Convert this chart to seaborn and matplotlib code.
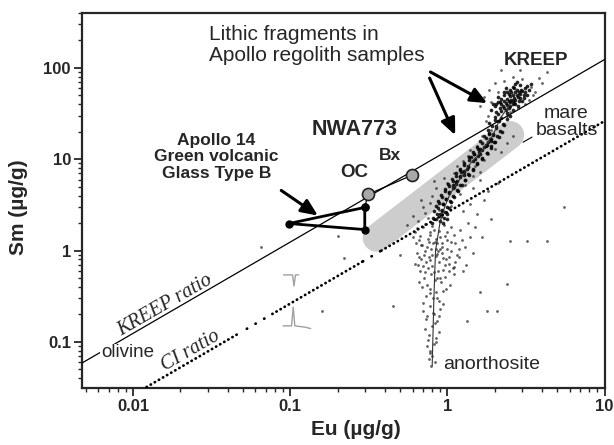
import pandas as pd
import matplotlib
matplotlib.use('Agg')
import matplotlib.pyplot as plt
import seaborn as sns
from matplotlib.ticker import FixedLocator, LogLocator, NullFormatter

sns.set_style('ticks')
plt.rcParams['font.family'] = ['Liberation Sans', 'DejaVu Sans']

# Sm/Eu reference ratios
kreep_ratio = 12.4
ci_ratio = 2.63
ci_dense = [(0.0115, 0.048), (0.077, 0.29), (0.38, 9.7)]
ci_sparse = [(0.053, 0.072), (0.29, 0.38)]

# lithic fragments in Apollo regolith samples (read off the cloud)
# dense core: KREEP cluster and the streak below it
kreep_eu = [2.0, 2.05, 2.1, 2.15, 2.2, 2.2, 2.25, 2.3, 2.3, 2.35, 2.4, 2.4, 2.45, 2.5, 2.5, 2.55, 2.6, 2.6, 2.65, 2.7,
            2.7, 2.75, 2.8, 2.85, 2.9, 2.95, 3.0, 3.1, 3.2, 2.35, 2.5, 2.6, 2.45, 2.15, 2.75, 2.9, 2.05, 2.55, 2.65, 3.05,
            2.0, 2.1, 2.2, 2.3, 2.4, 2.5, 2.6, 2.7, 2.2, 2.4, 2.6, 2.8, 3.0, 3.2, 2.9, 2.3, 2.1, 2.5, 2.7, 3.1,
            3.3, 1.9, 1.95, 2.35, 2.75, 3.4, 2.45, 2.65, 2.85, 3.05]
kreep_sm = [29, 33, 31, 36, 34, 40, 38, 36, 43, 41, 39, 46, 44, 42, 49, 45, 43, 51, 47, 45,
            54, 50, 48, 55, 52, 58, 56, 60, 64, 35, 38, 40, 52, 42, 58, 47, 40, 55, 61, 50,
            38, 42, 46, 50, 54, 58, 62, 66, 28, 32, 35, 38, 44, 50, 65, 55, 48, 30, 40, 54,
            58, 35, 40, 60, 70, 66, 36, 41, 44, 47]
band_eu = [1.85, 2.0, 2.12, 2.25, 2.4, 1.8, 1.92, 2.04, 2.16, 2.3, 1.72, 1.85, 1.96, 2.08, 2.22,
           1.62, 1.75, 1.86, 1.98, 2.12, 1.55, 1.66, 1.76, 1.88, 2.0, 1.45, 1.56, 1.66, 1.78, 1.9,
           1.37, 1.47, 1.56, 1.66, 1.78, 1.28, 1.37, 1.45, 1.55, 1.66, 1.2, 1.28, 1.36, 1.45, 1.55,
           1.13, 1.21, 1.28, 1.36, 1.46, 1.07, 1.14, 1.21, 1.29, 1.38, 1.01, 1.08, 1.14, 1.21, 1.3,
           0.96, 1.02, 1.08, 1.15, 1.23, 0.91, 0.97, 1.03, 1.09, 1.16, 0.87, 0.93, 0.98, 1.04, 1.1,
           0.84, 0.89, 0.94, 1.0, 1.06, 0.82, 0.87, 0.92, 0.97, 1.03, 0.81, 0.86, 0.905, 0.95, 1.0,
           0.8, 0.85, 0.9, 0.94, 0.99,
           2.1, 2.05, 1.95, 1.9, 1.8, 1.75, 1.7, 1.6, 1.5, 1.42, 1.35, 1.28, 1.2, 1.15, 1.1, 1.03, 0.98, 0.94, 0.92, 0.9,
           1.85, 1.62, 1.48, 1.33, 1.22, 1.08, 1.9, 1.78, 1.58, 1.27, 1.14]
band_sm = [25, 27, 26, 24.5, 27.5, 21, 23, 22, 20.5, 23.5, 18, 19.5, 19, 18.2, 20,
           15.8, 17.2, 16.5, 15.5, 17.5, 13.8, 15, 14.5, 13.9, 15.3, 12, 13, 12.5, 11.8, 13.2,
           10.5, 11.4, 11, 10.4, 11.6, 9.1, 9.8, 9.5, 9.0, 10, 7.9, 8.6, 8.3, 7.8, 8.8,
           7.0, 7.6, 7.3, 6.9, 7.7, 6.1, 6.6, 6.4, 6.0, 6.8, 5.3, 5.8, 5.6, 5.2, 5.9,
           4.7, 5.1, 4.9, 4.6, 5.2, 4.1, 4.5, 4.3, 4.0, 4.5, 3.5, 3.9, 3.7, 3.5, 3.9,
           3.05, 3.35, 3.2, 3.0, 3.4, 2.7, 2.9, 2.8, 2.65, 2.95, 2.3, 2.5, 2.4, 2.3, 2.5,
           2.0, 2.2, 2.1, 2.0, 2.2,
           26, 23, 18.5, 16, 15.5, 14, 13.5, 11.5, 10, 10.5, 8.5, 7.5, 6.5, 5.8, 5, 4.4, 3.7, 3.2, 2.7, 2.5,
           19, 13, 11.5, 7.8, 7.2, 5.2, 16.5, 14.5, 12, 6.8, 5.3]
# diffuse part of the cloud
halo_eu = [1.6, 1.7, 1.8, 1.85, 1.9, 2.0, 2.1, 2.3, 2.4, 2.6, 2.8, 3.0, 3.3, 3.4, 3.6, 3.8, 4.0, 4.3, 2.2, 1.75, 3.1, 2.9, 2.5, 3.5]
halo_sm = [38, 48, 30, 58, 42, 68, 55, 72, 30, 80, 36, 75, 45, 62, 55, 78, 68, 90, 95, 26, 40, 95, 33, 50]
mid_eu = [0.55, 0.6, 0.65, 0.7, 0.72, 0.78, 0.8, 0.85, 0.88, 1.0, 1.05, 1.1, 1.2, 1.3, 1.35, 1.45, 1.5, 1.6, 1.7, 1.8,
          2.0, 2.2, 2.4, 1.15, 0.95, 1.25, 1.55, 0.75, 0.68, 1.4, 1.9, 2.6, 0.82, 1.65,
          1.4, 1.55, 1.7, 1.9, 1.5, 1.65, 1.8, 1.35, 1.45, 1.6, 1.25, 2.1]
mid_sm = [1.9, 2.4, 2.1, 3.0, 2.6, 3.3, 4.0, 4.8, 2.8, 5.5, 3.1, 7.0, 4.2, 5.2, 11, 6.5, 8.5, 7.2, 9.8, 11.5,
          13, 12, 15, 8.5, 6.2, 9.5, 14, 2.3, 3.6, 12.5, 21, 18, 5.8, 18,
          3.2, 2.5, 3.6, 2.2, 1.8, 1.4, 4.5, 2.0, 4.8, 6.0, 2.7, 5.5]
lower_eu = [0.62, 0.66, 0.7, 0.74, 0.78, 0.82, 0.86, 0.9, 0.95, 1.0, 1.05, 1.1, 1.2, 1.3, 1.4, 0.64, 0.68, 0.72, 0.76, 0.8,
            0.84, 0.88, 0.92, 0.97, 1.02, 1.08, 1.15, 1.25, 0.67, 0.71, 0.75, 0.79, 0.83, 0.87, 0.91, 0.96, 1.04, 0.69, 0.73, 0.77,
            0.81, 0.85, 0.89, 0.94, 0.7, 0.74, 0.78, 0.82, 0.86, 0.9, 0.72, 0.76, 0.8, 0.84, 0.88, 0.74, 0.78, 0.82, 0.76, 0.8,
            0.79, 0.83, 0.63, 0.67, 0.71, 0.75, 0.79, 0.83, 0.87, 0.93, 0.98, 1.06, 1.12, 1.18, 0.65, 0.69, 0.73, 0.77, 0.81, 0.85,
            0.9, 0.99, 1.1, 0.66, 0.72, 0.8, 0.86, 0.94, 1.03,
            0.6, 0.64, 0.68, 0.72, 0.76, 0.8, 0.84, 0.88, 0.92, 0.96, 1.0, 1.06, 1.12, 1.18, 1.24, 1.32, 1.45, 0.62, 0.7, 0.78,
            0.86, 0.94, 1.02, 1.1, 0.66, 0.74, 0.82, 0.9, 0.98, 0.7, 0.78, 0.86, 0.94, 0.73, 0.81, 0.89, 0.75, 0.83, 0.77, 0.85]
lower_sm = [1.6, 1.3, 1.8, 1.1, 1.5, 1.7, 1.2, 1.4, 1.9, 1.6, 1.25, 1.5, 1.7, 1.1, 1.4, 0.95, 0.8, 1.0, 0.85, 0.9,
            1.05, 0.75, 0.95, 0.7, 0.85, 0.65, 0.9, 0.6, 0.6, 0.5, 0.65, 0.55, 0.48, 0.6, 0.45, 0.52, 0.42, 0.4, 0.32, 0.38,
            0.3, 0.35, 0.28, 0.36, 0.22, 0.19, 0.25, 0.2, 0.17, 0.23, 0.14, 0.12, 0.15, 0.11, 0.13, 0.09, 0.08, 0.095, 0.065, 0.07,
            0.055, 0.06, 1.2, 1.45, 0.9, 1.35, 1.05, 1.25, 0.98, 1.1, 0.8, 1.0, 0.75, 1.05, 0.7, 1.15, 0.75, 1.6, 1.2, 0.88,
            1.05, 1.3, 0.55, 0.85, 0.58, 0.68, 0.5, 0.62, 0.72,
            1.4, 1.75, 1.15, 1.95, 1.25, 1.85, 1.35, 1.65, 1.2, 1.45, 1.05, 1.8, 1.2, 0.85, 1.3, 0.7, 0.95, 0.72, 0.68, 0.78,
            0.92, 0.82, 0.6, 0.66, 0.45, 0.42, 0.58, 0.5, 0.38, 0.27, 0.34, 0.3, 0.26, 0.18, 0.21, 0.19, 0.105, 0.16, 0.075, 0.1]
stray_eu = [2.5, 3.2, 4.3, 2.4, 2.07, 1.79, 1.34, 0.22, 0.16, 0.2, 1.6, 0.5, 0.45, 5.5, 0.03, 0.065]
stray_sm = [1.29, 1.29, 1.29, 0.43, 0.22, 0.22, 0.17, 0.84, 0.22, 1.46, 0.35, 0.9, 0.25, 3.0, 0.5, 1.1]

# anorthosite - KREEP mixing trend
mix_eu = [0.80, 0.82, 0.84, 0.90, 0.96, 1.04, 1.21, 1.40, 1.67, 1.95, 2.17, 2.5]
mix_sm = [0.055, 0.3, 1.0, 2.1, 3.0, 4.2, 6.2, 9.0, 12.6, 18.4, 28.2, 40]

# mare basalt field (axis of the grey band)
mare_eu = [0.354, 2.51]
mare_sm = [1.38, 18.5]

# Apollo 14 green volcanic glass type B
glass_eu = [0.298, 0.098, 0.298, 0.298]
glass_sm = [2.97, 1.98, 1.70, 2.97]

# NWA773: OC and Bx
nwa_names = ['OC', 'Bx']
nwa_eu = [0.312, 0.592]
nwa_sm = [4.12, 6.67]

# grey peak symbols
peak_up_eu = [0.0906, 0.1035, 0.1057, 0.108, 0.113]
peak_up_sm = [0.542, 0.542, 0.41, 0.542, 0.542]
peak_lo_eu = [0.09, 0.102, 0.1045, 0.107, 0.125, 0.135]
peak_lo_sm = [0.15, 0.15, 0.24, 0.15, 0.145, 0.14]

core = pd.DataFrame({'Eu': kreep_eu + band_eu, 'Sm': kreep_sm + band_sm})
diffuse = pd.DataFrame({'Eu': halo_eu + mid_eu + lower_eu + stray_eu,
                        'Sm': halo_sm + mid_sm + lower_sm + stray_sm})

fig = plt.figure(figsize=(6.14, 4.45), dpi=100)
ax = fig.add_axes([82 / 614, 57 / 445, 523 / 614, 375 / 445])
ax.set_xscale('log')
ax.set_yscale('log')
xlim = (0.00474, 10.05)
ax.set_xlim(*xlim)
ax.set_ylim(0.0313, 400)

# grey mare basalt band
ax.plot(mare_eu, mare_sm, color='#cdcdcd', lw=20, solid_capstyle='round', zorder=1)

sns.scatterplot(data=diffuse, x='Eu', y='Sm', s=4, color='#202020', alpha=0.7,
                linewidth=0, ax=ax, zorder=2)
sns.scatterplot(data=core, x='Eu', y='Sm', s=7, color='black', alpha=0.85,
                linewidth=0, ax=ax, zorder=2)
ax.plot(mix_eu, mix_sm, color='#333333', lw=0.8, zorder=3)

# ratio lines
ax.plot(xlim, [kreep_ratio * v for v in xlim], color='black', lw=0.9, zorder=3)
for a, b in ci_dense:
    ax.plot([a, b], [ci_ratio * a, ci_ratio * b], color='black', lw=2.0,
            linestyle=(0, (0.1, 1.6)), dash_capstyle='round', zorder=3)
for a, b in ci_sparse:
    ax.plot([a, b], [ci_ratio * a, ci_ratio * b], color='black', lw=2.0,
            linestyle=(0, (0.1, 3.5)), dash_capstyle='round', zorder=3)

ax.plot(peak_up_eu, peak_up_sm, color='#a0a0a0', lw=1.0, zorder=3)
ax.plot(peak_lo_eu, peak_lo_sm, color='#a0a0a0', lw=1.0, zorder=3)

# green glass triangle
ax.plot(glass_eu, glass_sm, color='black', lw=2.0, marker='o', ms=5, zorder=4)
# NWA773 trend
ax.plot([glass_eu[0]] + nwa_eu, [glass_sm[0]] + nwa_sm, color='black', lw=0.9, zorder=4)
sns.scatterplot(x=nwa_eu, y=nwa_sm, s=75, color='#a8a8a8', edgecolor='#222222',
                linewidth=1.2, ax=ax, zorder=5)

# arrows
arrow = dict(arrowstyle='-|>,head_length=0.5,head_width=0.22', color='black', lw=2.2,
             mutation_scale=20, shrinkA=0, shrinkB=0)
ax.annotate('', xy=(0.150, 2.42), xytext=(0.0877, 4.56), arrowprops=arrow, zorder=6)
ax.annotate('', xy=(1.79, 41.2), xytext=(0.78, 90.4), arrowprops=arrow, zorder=6)
ax.annotate('', xy=(1.12, 18.4), xytext=(0.77, 77.6), arrowprops=arrow, zorder=6)
ax.plot([3.03, 3.45], [15.4, 17.5], color='black', lw=0.8, zorder=4)

# labels
ax.text(0.0303, 179, 'Lithic fragments in\nApollo regolith samples', fontsize=15,
        ha='left', va='center', linespacing=1.1, zorder=6)
ax.text(0.034, 10.6, 'Apollo 14\nGreen volcanic\nGlass Type B', fontsize=12.5, fontweight='bold',
        ha='center', va='center', linespacing=1.1, zorder=6)
ax.text(3.68, 119.6, 'KREEP', fontsize=13.5, fontweight='bold', ha='center', va='center', zorder=6)
ax.text(0.256, 21, 'NWA773', fontsize=15.5, fontweight='bold', ha='center', va='center', zorder=6)
ax.text(0.256, 7.1, nwa_names[0], fontsize=13.5, fontweight='bold', ha='center', va='center', zorder=6)
ax.text(0.434, 10.9, nwa_names[1], fontsize=12.5, fontweight='bold', ha='center', va='center', zorder=6)
ax.text(5.71, 25.7, 'mare\nbasalts', fontsize=14, ha='center', va='center', linespacing=1.0, zorder=6)
ax.text(0.00924, 0.0758, 'olivine', fontsize=13.5, ha='center', va='center', zorder=6,
        bbox=dict(facecolor='white', edgecolor='none', pad=0.5))
ax.text(0.943, 0.056, 'anorthosite', fontsize=14, ha='left', va='center', zorder=6)
ax.text(0.0161, 0.248, 'KREEP ratio', fontsize=14.5, family='Liberation Serif', style='italic',
        rotation=30, rotation_mode='anchor', ha='center', va='center', zorder=6)
ax.text(0.0232, 0.0797, 'CI ratio', fontsize=14.5, family='Liberation Serif', style='italic',
        rotation=30, rotation_mode='anchor', ha='center', va='center', zorder=6)

# axes styling
ax.xaxis.set_major_locator(FixedLocator([0.01, 0.1, 1, 10]))
ax.set_xticklabels(['0.01', '0.1', '1', '10'])
ax.yaxis.set_major_locator(FixedLocator([0.1, 1, 10, 100]))
ax.set_yticklabels(['0.1', '1', '10', '100'])
for axis in (ax.xaxis, ax.yaxis):
    axis.set_minor_locator(LogLocator(base=10, subs=range(2, 10), numticks=20))
    axis.set_minor_formatter(NullFormatter())
ax.tick_params(which='major', direction='out', length=6, width=1.3, labelsize=12, pad=2)
ax.tick_params(which='minor', direction='out', length=3, width=1.0)
for lab in ax.get_xticklabels() + ax.get_yticklabels():
    lab.set_fontweight('bold')
for sp in ax.spines.values():
    sp.set_linewidth(1.6)
    sp.set_visible(True)

ax.set_xlabel('Eu (\u00b5g/g)', fontsize=15, fontweight='bold')
ax.set_ylabel('Sm (\u00b5g/g)', fontsize=15, fontweight='bold')
ax.xaxis.set_label_coords(0.524, -0.085)
ax.yaxis.set_label_coords(-0.103, 0.483)

fig.savefig('out.png', dpi=100)
